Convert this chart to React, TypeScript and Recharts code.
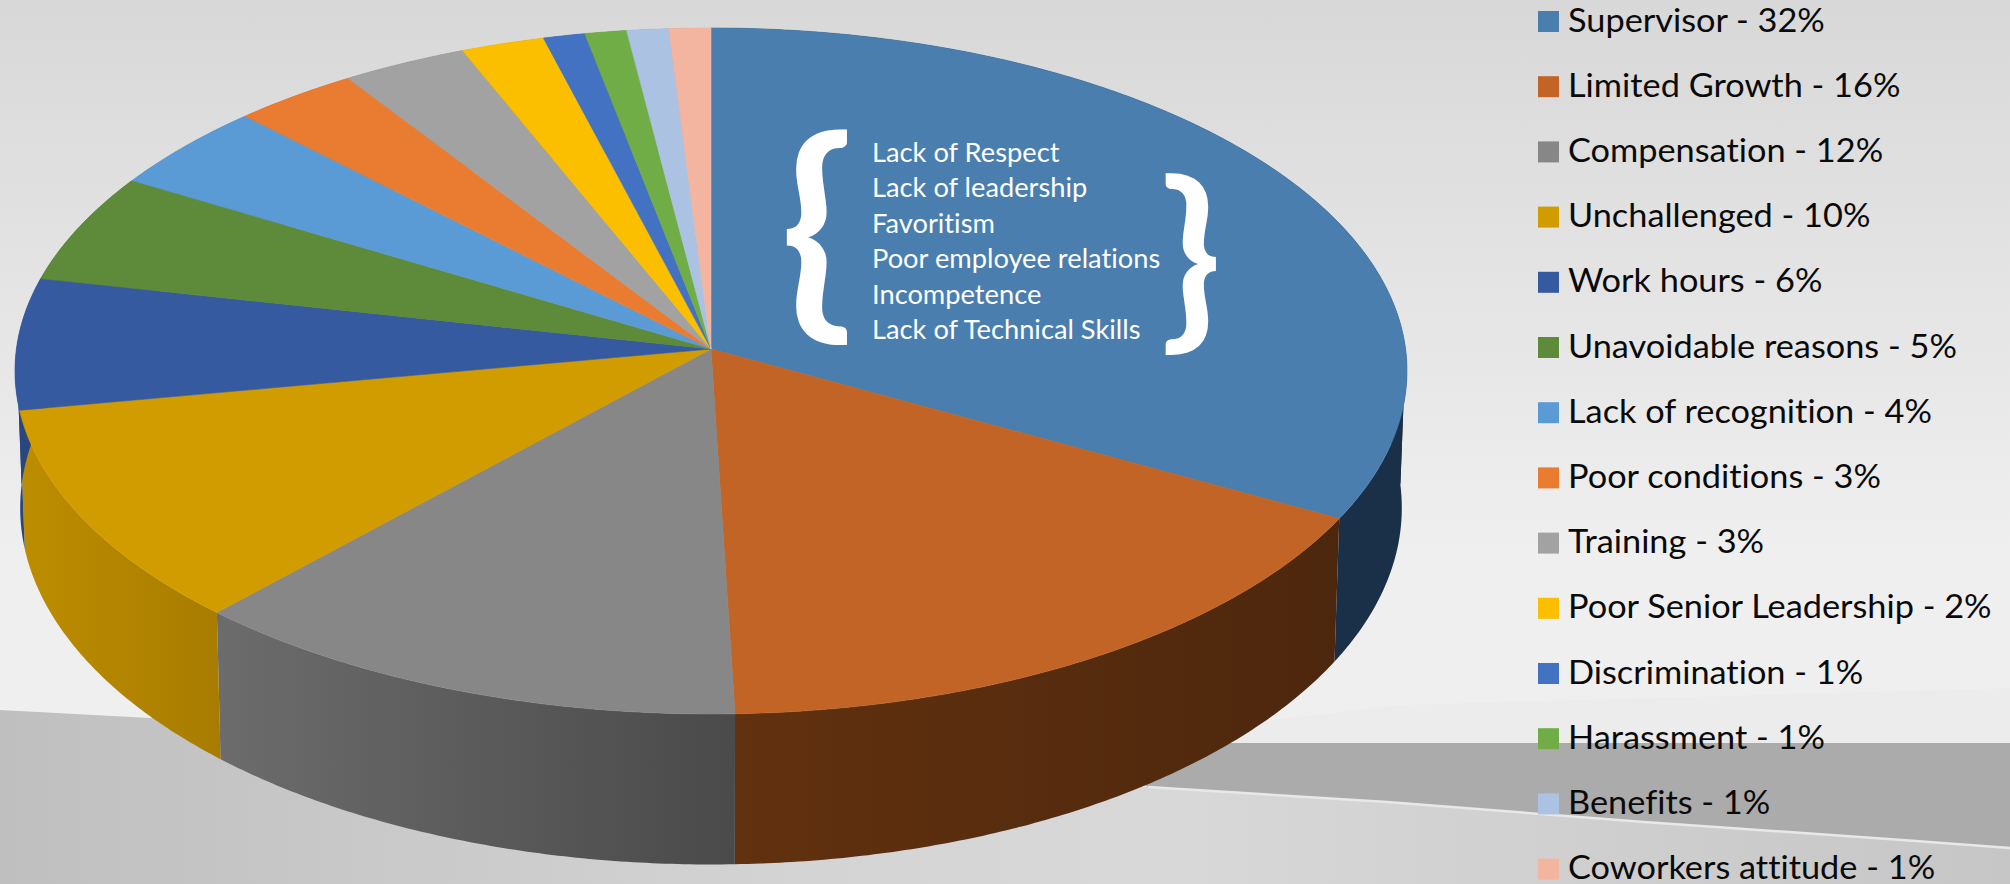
import React from "react";
import { PieChart, Pie, Legend } from "recharts";

const W = 2010;
const H = 884;

const categories = [
  "Supervisor", "Limited Growth", "Compensation", "Unchallenged", "Work hours",
  "Unavoidable reasons", "Lack of recognition", "Poor conditions", "Training",
  "Poor Senior Leadership", "Discrimination", "Harassment", "Benefits", "Coworkers attitude",
];
const shares = [32, 16, 12, 10, 6, 5, 4, 3, 3, 2, 1, 1, 1, 1];
const faceColors = [
  "#4a7eae", "#c16425", "#878787", "#d19c00", "#355a9f", "#5d8b39", "#5b9bd5",
  "#ea7c31", "#a2a2a2", "#fbbf00", "#4372c2", "#70ad47", "#abc2e2", "#f3b5a0",
];
// Left and right tones of the pie's rim for each slice.
const rimColors: [string, string][] = [
  ["#1a3049", "#1a3049"], ["#62310f", "#4d270d"], ["#6c6c6c", "#4a4a4a"], ["#bd8d00", "#a87c00"],
  ["#29477c", "#29477c"], ["#46682b", "#46682b"], ["#44749f", "#44749f"], ["#b05d25", "#b05d25"],
  ["#7a7a7a", "#7a7a7a"], ["#bd9000", "#bd9000"], ["#335692", "#335692"], ["#548235", "#548235"],
  ["#8092aa", "#8092aa"], ["#b68878", "#b68878"],
];
const causes = [
  "Lack of Respect", "Lack of leadership", "Favoritism",
  "Poor employee relations", "Incompetence", "Lack of Technical Skills",
];

const rows = categories.map((name, i) => ({
  name,
  value: shares[i],
  fill: faceColors[i],
  index: i,
}));

// Perspective view of a flat disc: the apex is nearer the far edge than the near edge.
const APEX_X = 711;
const APEX_Y = 349;
const SPAN_X = 694.6;
const SPAN_Y = 341.6;
const TILT = -0.064;

const project = (clockDeg: number) => {
  const t = (clockDeg * Math.PI) / 180;
  const u = Math.sin(t);
  const v = -Math.cos(t);
  const d = 1 + TILT * v;
  return { x: APEX_X + (SPAN_X * u) / d, y: APEX_Y + (SPAN_Y * v) / d, v };
};
const dropped = (p: { x: number; y: number; v: number }) => ({
  x: APEX_X + (p.x - APEX_X) * 0.9925,
  y: p.y + 136 + 14.5 * p.v,
});

const arcPoints = (a0: number, a1: number) => {
  const n = Math.max(2, Math.ceil(Math.abs(a1 - a0) * 2));
  const pts = [];
  for (let i = 0; i <= n; i++) pts.push(project(a0 + ((a1 - a0) * i) / n));
  return pts;
};
const toClock = (deg: number) => 90 - deg;
const line = (pts: { x: number; y: number }[]) =>
  pts.map((p, i) => `${i ? "L" : "M"}${p.x.toFixed(2)},${p.y.toFixed(2)}`).join(" ");

const FaceSector = (props: any) => {
  const pts = arcPoints(toClock(props.startAngle), toClock(props.endAngle));
  return (
    <path
      d={`${line(pts)} L${APEX_X},${APEX_Y} Z`}
      fill={props.fill}
      stroke={props.fill}
      strokeWidth={0.6}
    />
  );
};

// The rim band folds over at the disc's left and right extremes, so each side
// of a fold gets its own path; one path would cancel out where the two overlap.
const foldSpans = (a0: number, a1: number) => {
  const cuts = [90, 270].filter((c) => c > a0 && c < a1);
  const edges = [a0, ...cuts, a1];
  return edges.slice(0, -1).map((e, i) => [e, edges[i + 1]]);
};

const RimSector = (props: any) => {
  const i = categories.indexOf(props.name ?? props.payload?.name);
  const id = `rim-${i}`;
  return (
    <g>
      <defs>
        <linearGradient id={id} x1="0" y1="0" x2="1" y2="0">
          <stop offset="0" stopColor={rimColors[i][0]} />
          <stop offset="1" stopColor={rimColors[i][1]} />
        </linearGradient>
      </defs>
      {foldSpans(toClock(props.startAngle), toClock(props.endAngle)).map(([a, b]) => {
        const pts = arcPoints(a, b);
        const low = pts.map(dropped).reverse();
        return (
          <path key={a} d={`${line(pts)} ${line(low).replace("M", "L")} Z`} fill={`url(#${id})`} stroke="none" />
        );
      })}
    </g>
  );
};

const LEGEND_FIRST_Y = 21.5;
const LEGEND_STEP = 65.2;

const KeyList = ({ payload }: any) => {
  const seen = new Set<string>();
  const entries = (payload ?? []).filter((e: any) => {
    if (seen.has(e.value)) return false;
    seen.add(e.value);
    return true;
  });
  return (
    <svg width={W} height={H} style={{ position: "absolute", left: 0, top: 0, overflow: "visible" }}>
      {entries.map((entry: any, i: number) => {
        const y = LEGEND_FIRST_Y + i * LEGEND_STEP;
        return (
          <g key={entry.value}>
            <rect x={1538} y={y - 10.5} width={21} height={21} fill={entry.color} />
            <text
              transform={`translate(1568 ${y + 10}) scale(1.04 1)`}
              fontFamily="Lato"
              fontSize={33}
              fill="#0a0a0a"
              style={{ fontVariantLigatures: "none" }}
            >
              {`${entry.value} - ${entry.payload?.value ?? shares[i]}%`}
            </text>
          </g>
        );
      })}
    </svg>
  );
};

const Backdrop = () => (
  <svg width={W} height={H} style={{ position: "absolute", left: 0, top: 0 }}>
    <defs>
      <linearGradient id="wall" x1="0" y1="0" x2="0" y2="1">
        <stop offset="0" stopColor="#d8d8d8" />
        <stop offset="0.62" stopColor="#efefef" />
        <stop offset="1" stopColor="#efefef" />
      </linearGradient>
      <linearGradient id="floor" x1="0" y1="0" x2="1" y2="0">
        <stop offset="0" stopColor="#bfbfbf" />
        <stop offset="0.4" stopColor="#d4d4d4" />
        <stop offset="0.58" stopColor="#d8d8d8" />
        <stop offset="1" stopColor="#c6c6c6" />
      </linearGradient>
    </defs>
    <rect width={W} height={H} fill="url(#wall)" />
    <path d="M1400,705 L2010,688 L2010,743 L1075,743 Z" fill="#ececec" />
    <path d="M1075,743 L2010,743 L2010,848 L1148,787 Z" fill="#ababab" />
    <path
      d="M0,710 L150,718 L1148,787 L1387,802 L1644,822 L1902,840 L2010,848 L2010,884 L0,884 Z"
      fill="url(#floor)"
    />
    <path d="M1148,787 L1387,802 L1644,822 L1902,840 L2010,848" fill="none" stroke="#e8e8e8" strokeWidth={2.5} />
  </svg>
);

const Annotation = () => (
  <svg width={W} height={H} style={{ position: "absolute", left: 0, top: 0, pointerEvents: "none" }}>
    {causes.map((c, i) => (
      <text
        key={c}
        transform={`translate(872 ${162 + i * 35.4}) scale(1.01 1)`}
        fontFamily="Lato"
        fontSize={27}
        fill="#ffffff"
        style={{ fontVariantLigatures: "none" }}
      >
        {c}
      </text>
    ))}
    <text
      transform="translate(780 309) scale(1.27 1.22)"
      fontFamily="Lato"
      fontSize={190}
      fontWeight={700}
      fill="#ffffff"
    >
      {"{"}
    </text>
    <text
      transform="translate(1160 325) scale(1.06 1.03)"
      fontFamily="Lato"
      fontSize={190}
      fontWeight={700}
      fill="#ffffff"
    >
      {"}"}
    </text>
  </svg>
);

export default function App() {
  return (
    <div style={{ position: "absolute", left: 0, top: 0, width: W, height: H, overflow: "hidden" }}>
      <Backdrop />
      <div style={{ position: "absolute", left: 0, top: 0 }}>
        <PieChart width={W} height={H} margin={{ top: 0, right: 0, bottom: 0, left: 0 }}>
          <Pie
            data={rows}
            dataKey="value"
            nameKey="name"
            cx={APEX_X}
            cy={APEX_Y}
            outerRadius={340}
            startAngle={90}
            endAngle={-270}
            legendType="none"
            shape={RimSector}
            isAnimationActive={false}
          />
          <Pie
            data={rows}
            dataKey="value"
            nameKey="name"
            cx={APEX_X}
            cy={APEX_Y}
            outerRadius={340}
            startAngle={90}
            endAngle={-270}
            legendType="rect"
            shape={FaceSector}
            isAnimationActive={false}
          />
          <Legend
            itemSorter={null}
            content={<KeyList />}
            wrapperStyle={{ position: "absolute", left: 0, top: 0, width: W, height: H }}
          />
        </PieChart>
      </div>
      <Annotation />
    </div>
  );
}
